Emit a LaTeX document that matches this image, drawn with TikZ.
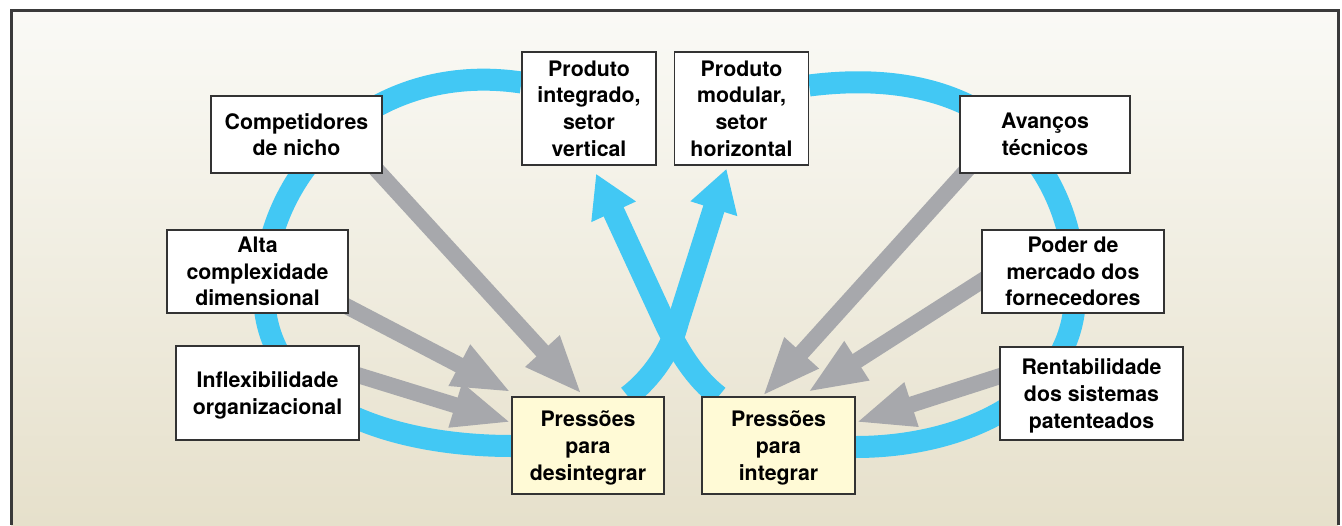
\documentclass[tikz,border=0pt]{standalone}
\usepackage{fontspec}
\setmainfont{TeX Gyre Heros}
\usetikzlibrary{arrows.meta,calc}

\definecolor{loopblue}{RGB}{66,200,244}
\definecolor{pushgrey}{RGB}{167,168,172}
\definecolor{boxyellow}{RGB}{255,250,214}
\definecolor{framegrey}{RGB}{58,58,58}
\definecolor{bgtop}{RGB}{250,250,246}
\definecolor{bgbottom}{RGB}{230,224,203}

\pgfdeclarelayer{back}
\pgfdeclarelayer{bands}
\pgfsetlayers{back,bands,main}

\tikzset{every picture/.style={line width=0.75pt}}
\tikzset{
	factor/.style={draw=black!80, fill=white, line width=1pt, align=center, inner sep=0pt, text depth=0pt,
		font=\fontsize{16}{20}\selectfont\bfseries},
	pressure/.style={factor, fill=boxyellow, text depth=-4.5pt},
	push/.style={draw=pushgrey, line width=12pt, -{Triangle[length=44pt,width=31.5pt]}},
	loopband/.style={draw=loopblue, line width=16.5pt},
	crossband/.style={loopband, -{Triangle[length=31.5pt,width=34.5pt]}}
}

\begin{document}
\begin{tikzpicture}[x=0.75pt,y=0.75pt,yscale=-1,xscale=1]
	\useasboundingbox (0,0) rectangle (1342,525);

	% background and frame
	\begin{pgfonlayer}{back}
	\shade [top color=bgtop, bottom color=bgbottom] (11,10) rectangle (1338,525);
	\draw [framegrey, line width=2.25pt] (11,525) -- (11,10) -- (1338,10) -- (1338,525);
	\end{pgfonlayer}

	% Text Nodes
	\node [factor, minimum width=128.25pt, minimum height=57.75pt] (comp) at (296.5,134.5) {Competidores\\de nicho};
	\node [factor, minimum width=100.5pt, minimum height=84.75pt] (integ) at (589,108.5) {Produto\\integrado,\\setor\\vertical};
	\node [factor, minimum width=100.5pt, minimum height=84.75pt] (modul) at (741.5,108.5) {Produto\\modular,\\setor\\horizontal};
	\node [factor, minimum width=127.5pt, minimum height=57.75pt] (avanc) at (1045,134.5) {Avanços\\técnicos};
	\node [factor, minimum width=135.75pt, minimum height=62.25pt] (alta) at (257.5,271.5) {Alta\\complexidade\\dimensional};
	\node [factor, minimum width=136.5pt, minimum height=62.25pt] (poder) at (1073,271.5) {Poder de\\mercado dos\\fornecedores};
	\node [factor, minimum width=137.25pt, minimum height=70.5pt] (inflex) at (267.5,393) {Inflexibilidade\\organizacional};
	\node [factor, minimum width=137.25pt, minimum height=69.75pt] (rentab) at (1091.5,393.5) {Rentabilidade\\dos sistemas\\patenteados};
	\node [pressure, minimum width=114pt, minimum height=72.75pt] (desint) at (588,445.5) {Pressões\\para\\desintegrar};
	\node [pressure, minimum width=114.75pt, minimum height=72.75pt] (integr) at (778.5,445.5) {Pressões\\para\\integrar};

	\begin{pgfonlayer}{bands}
	%Curve Lines: left loop
	\draw [loopband] ($(desint.west)+(0,0.5)$) .. controls (400,446) and (266,410) .. (264,295) .. controls (262,175) and (370,60) .. ($(integ.west)+(0,-26)$);
	%Curve Lines: right loop
	\draw [loopband] ($(integr.east)+(0,1.5)$) .. controls (960,447) and (1070,400) .. (1075,300) .. controls (1080,190) and (1010,60) .. ($(modul.east)+(0,-23)$);
	%Curve Lines: crossing arrows
	\draw [crossband] ($(desint.north)+(40,0)$) .. controls (652,378) and (671,350) .. (678,322) -- ($(modul.south)+(-15,3)$);
	\draw [crossband] ($(integr.north)+(-60,0)$) .. controls (695,378) and (679,352) .. (666,325) -- ($(integ.south)+(7,8)$);

	%Straight Lines: pressures
	\draw [push] ($(comp.south east)+(-8,-6)$) -- ($(desint.north)+(-6,-2)$);
	\draw [push] ($(alta.east)+(-15,28)$) -- ($(desint.north west)+(0,-4)$);
	\draw [push] ($(inflex.east)+(-12,-21)$) -- ($(desint.west)+(0,-23)$);
	\draw [push] ($(avanc.south west)+(15,-12)$) -- ($(integr.north west)+(61,0)$);
	\draw [push] ($(poder.west)+(12,2)$) -- ($(integr.north)+(29,-4)$);
	\draw [push] ($(rentab.west)+(15,-22)$) -- ($(integr.east)+(0,-23)$);
	\end{pgfonlayer}

\end{tikzpicture}
\end{document}
